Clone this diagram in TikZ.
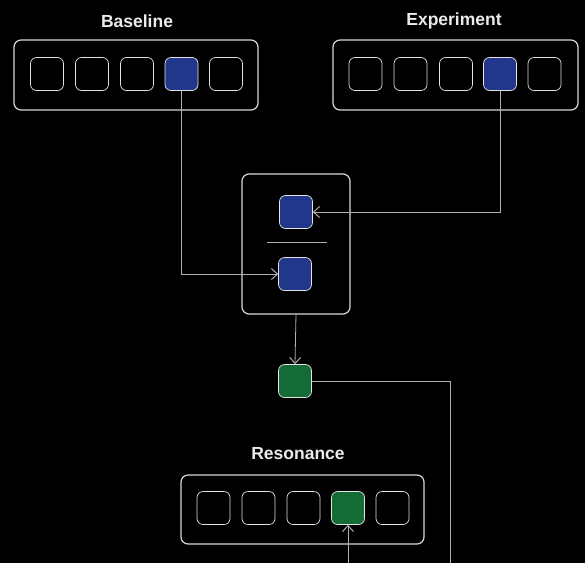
\documentclass[tikz,border=0pt]{standalone}
\usepackage{fontspec}
\setmainfont{Liberation Sans}
\usetikzlibrary{arrows.meta}
\definecolor{cellblue}{HTML}{22378A}
\definecolor{cellgreen}{HTML}{146B35}
\definecolor{edgegray}{HTML}{D8D8D8}
\definecolor{wiregray}{HTML}{B0B0B0}
\begin{document}
\begin{tikzpicture}[x=1pt,y=-1pt,
  frame/.style={draw=edgegray,line width=1.2pt,rounded corners=7pt,fill=black},
  cell/.style={draw=edgegray!75,line width=0.7pt,rounded corners=6pt,minimum width=33pt,minimum height=33pt,inner sep=0pt},
  bluecell/.style={cell,fill=cellblue,draw=edgegray!70},
  greencell/.style={cell,fill=cellgreen,draw=edgegray!70},
  title/.style={text=white!92!black,font=\bfseries\fontsize{17.5}{20}\selectfont},
  wire/.style={draw=wiregray,line width=0.8pt},
  arr/.style={wire,-{Straight Barb[length=6pt,width=11pt,line width=1pt]}}]
\fill[black] (0,0) rectangle (585,563);
\useasboundingbox (0,0) rectangle (585,563);

% Baseline group
\node[title] (tb) at (137,21) {Baseline};
\draw[frame] (14,40) rectangle (258,110);
\node[cell] (b1) at (47,74) {};
\node[cell] (b2) at (92,74) {};
\node[cell] (b3) at (137,74) {};
\node[bluecell] (b4) at (181.5,74) {};
\node[cell] (b5) at (226,74) {};

% Experiment group
\node[title] (te) at (454,21) {Experiment};
\draw[frame] (333,40) rectangle (578,110);
\node[cell] (e1) at (365.5,74) {};
\node[cell] (e2) at (410.5,74) {};
\node[cell] (e3) at (456,74) {};
\node[bluecell] (e4) at (500,74) {};
\node[cell] (e5) at (544.5,74) {};

% Comparison group
\draw[frame] (242,174) rectangle (350,314);
\coordinate (cmpbot) at (296,314);
\node[bluecell] (ctop) at (296,212) {};
\node[bluecell] (cbot) at (295,274) {};
\draw[draw=wiregray,line width=0.9pt] (267,242) -- (327,242);

% Result cell
\node[greencell] (res) at (295,381) {};

% Resonance group
\node[title] (tr) at (298,454) {Resonance};
\draw[frame] (181,475) rectangle (424,544);
\node[cell] (r1) at (213.5,508) {};
\node[cell] (r2) at (258.5,508) {};
\node[cell] (r3) at (303.5,508) {};
\node[greencell] (r4) at (348,508) {};
\node[cell] (r5) at (392.5,508) {};

% Connectors
\draw[arr] (b4.south) |- (cbot.west);
\draw[arr] (e4.south) |- (ctop.east);
\draw[arr] (cmpbot) -- (res.north);
\coordinate (resout) at (450,563);
\draw[wire] (res.east) -| (resout);
\coordinate (resin) at (348,563);
\draw[arr] (resin) -- (r4.south);
\end{tikzpicture}
\end{document}
